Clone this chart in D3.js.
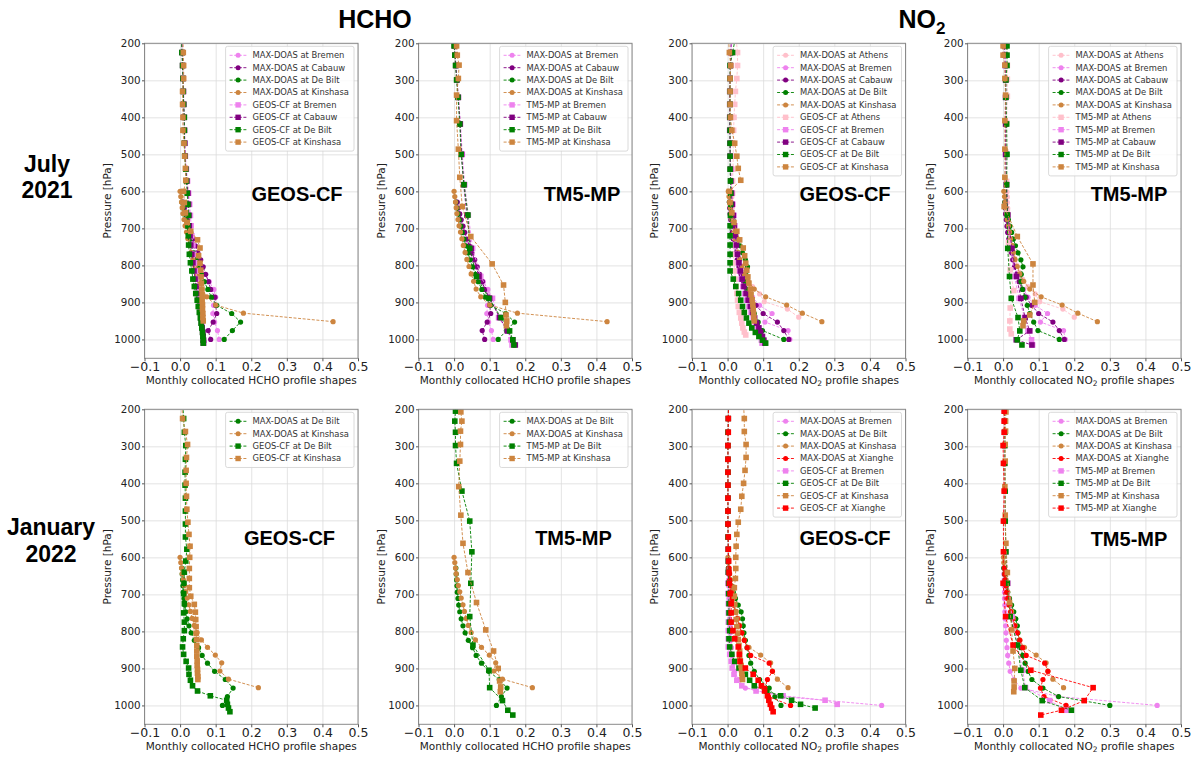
<!DOCTYPE html>
<html>
<head>
<meta charset="utf-8">
<script src="https://cdn.jsdelivr.net/npm/d3@7"></script>
<style>
  body { margin: 0; background: #fff; }
</style>
</head>
<body>
<div id="vis"></div>
<script>
// ----- PRESSURE LEVELS [hPa] ----- //
const lvMaxdoas    = [1000, 976, 953, 930, 908, 886, 865, 844, 824, 804, 785, 766, 747, 729, 711, 694, 677, 661, 645, 629];
const lvMaxdoasKin = [952, 929, 907, 885, 864, 843, 823, 803, 784, 765, 746, 728, 710, 693, 676, 660, 644, 629, 614, 600];
const lvMaxdoasAth = [940, 918, 898, 877, 857, 837, 818, 799, 780, 762, 744, 727, 710, 693, 677, 661, 645, 630, 615, 601];
const lvGeos    = [190, 225, 260, 295, 330, 365, 400, 435, 470, 505, 540, 572, 605, 635, 665, 693, 720, 745, 770, 793, 815, 837, 857, 876, 894, 911, 927, 942, 956, 969, 981, 992, 1002, 1010];
const lvGeosJan = [190, 225, 262, 298, 335, 370, 405, 440, 475, 510, 545, 578, 610, 640, 670, 698, 725, 750, 775, 798, 820, 842, 862, 881, 899, 916, 932, 947, 961, 974, 986, 997, 1007, 1017];
const lvGeosKin = [190, 225, 260, 295, 330, 365, 400, 435, 470, 505, 538, 570, 600, 630, 658, 684, 708, 731, 753, 774, 794, 813, 831, 848, 864, 879, 893, 906, 918, 930, 941, 950];
const lvGeosKinJan = [190, 225, 260, 295, 330, 365, 400, 435, 470, 505, 538, 570, 600, 630, 657, 682, 705, 727, 748, 768, 787, 805, 822, 838, 853, 867, 880, 892, 903, 913, 922, 930];
const lvGeosAth = [190, 225, 260, 295, 330, 365, 400, 435, 470, 505, 540, 572, 605, 635, 665, 693, 720, 745, 770, 793, 815, 837, 857, 876, 894, 911, 927, 942, 956, 969, 980, 988];
const lvTm5    = [185, 207, 232, 260, 299, 346, 418, 500, 582, 664, 754, 830, 889, 941, 977, 1001, 1015];
const lvTm5Jan = [185, 205, 232, 262, 298, 346, 421, 502, 585, 670, 760, 837, 905, 952, 987, 1013, 1026];
const lvTm5Kin = [185, 207, 232, 259, 295, 340, 409, 486, 562, 641, 722, 796, 853, 900, 934, 950, 963];
const lvTm5Ath = [185, 207, 232, 259, 297, 343, 414, 494, 573, 654, 738, 812, 868, 915, 950, 972, 985];

// ----- HCHO, JULY 2021 ----- //
const mdHchoJulBremen   = [0.110, 0.105, 0.097, 0.092, 0.094, 0.100, 0.095, 0.082, 0.070, 0.060, 0.052, 0.045, 0.038, 0.032, 0.027, 0.022, 0.018, 0.014, 0.010, 0.007];
const mdHchoJulCabauw   = [0.086, 0.079, 0.093, 0.103, 0.100, 0.098, 0.086, 0.080, 0.072, 0.065, 0.058, 0.050, 0.043, 0.036, 0.030, 0.025, 0.020, 0.016, 0.012, 0.009];
const mdHchoJulDeBilt   = [0.124, 0.147, 0.170, 0.145, 0.103, 0.088, 0.078, 0.068, 0.060, 0.052, 0.045, 0.039, 0.033, 0.028, 0.023, 0.019, 0.015, 0.011, 0.008, 0.005];
const mdHchoJulKinshasa = [0.430, 0.178, 0.100, 0.075, 0.062, 0.055, 0.048, 0.042, 0.036, 0.031, 0.026, 0.022, 0.018, 0.014, 0.011, 0.008, 0.006, 0.004, 0.002, 0.000];

const geosHchoJulBremen   = [0.005, 0.006, 0.008, 0.009, 0.010, 0.011, 0.012, 0.013, 0.014, 0.015, 0.018, 0.021, 0.024, 0.027, 0.029, 0.031, 0.033, 0.036, 0.039, 0.042, 0.045, 0.048, 0.050, 0.052, 0.054, 0.056, 0.058, 0.060, 0.061, 0.062, 0.063, 0.064, 0.064, 0.065];
const geosHchoJulCabauw   = [0.005, 0.006, 0.007, 0.008, 0.009, 0.010, 0.011, 0.012, 0.013, 0.014, 0.016, 0.019, 0.022, 0.024, 0.025, 0.026, 0.028, 0.030, 0.033, 0.036, 0.039, 0.042, 0.045, 0.048, 0.051, 0.054, 0.056, 0.058, 0.060, 0.062, 0.064, 0.065, 0.066, 0.066];
const geosHchoJulDeBilt   = [0.004, 0.005, 0.007, 0.008, 0.009, 0.010, 0.012, 0.012, 0.012, 0.013, 0.016, 0.018, 0.020, 0.022, 0.024, 0.022, 0.023, 0.024, 0.026, 0.029, 0.033, 0.036, 0.040, 0.044, 0.048, 0.051, 0.054, 0.057, 0.059, 0.061, 0.063, 0.064, 0.065, 0.065];
const geosHchoJulKinshasa = [0.008, 0.009, 0.010, 0.010, 0.007, 0.007, 0.008, 0.008, 0.011, 0.013, 0.015, 0.016, 0.010, 0.012, 0.015, 0.020, 0.030, 0.049, 0.056, 0.052, 0.056, 0.058, 0.059, 0.060, 0.061, 0.062, 0.062, 0.063, 0.063, 0.064, 0.064, 0.065];

const tm5HchoJulBremen   = [0.001, 0.002, 0.003, 0.005, 0.008, 0.012, 0.018, 0.023, 0.030, 0.040, 0.052, 0.075, 0.108, 0.125, 0.150, 0.160, 0.163];
const tm5HchoJulCabauw   = [0.001, 0.001, 0.003, 0.005, 0.008, 0.012, 0.017, 0.021, 0.027, 0.036, 0.048, 0.070, 0.100, 0.128, 0.150, 0.165, 0.172];
const tm5HchoJulDeBilt   = [0.000, 0.000, 0.002, 0.004, 0.007, 0.011, 0.016, 0.020, 0.028, 0.039, 0.044, 0.063, 0.098, 0.132, 0.156, 0.165, 0.168];
const tm5HchoJulKinshasa = [0.006, 0.007, 0.009, 0.014, 0.012, 0.007, 0.007, 0.012, 0.016, 0.023, 0.047, 0.107, 0.139, 0.144, 0.146, 0.148, 0.147];

// ----- NO2, JULY 2021 ----- //
const mdNo2JulAthens   = [0.200, 0.168, 0.103, 0.090, 0.070, 0.055, 0.045, 0.038, 0.032, 0.027, 0.023, 0.020, 0.018, 0.016, 0.015, 0.014, 0.013, 0.012, 0.012, 0.011];
const mdNo2JulBremen   = [0.175, 0.170, 0.105, 0.125, 0.090, 0.070, 0.058, 0.048, 0.040, 0.034, 0.029, 0.025, 0.021, 0.018, 0.015, 0.013, 0.011, 0.009, 0.008, 0.007];
const mdNo2JulCabauw   = [0.172, 0.158, 0.140, 0.100, 0.080, 0.065, 0.054, 0.045, 0.038, 0.032, 0.027, 0.023, 0.019, 0.016, 0.013, 0.011, 0.009, 0.007, 0.006, 0.005];
const mdNo2JulDeBilt   = [0.158, 0.098, 0.086, 0.075, 0.068, 0.061, 0.055, 0.050, 0.051, 0.056, 0.050, 0.042, 0.035, 0.029, 0.024, 0.019, 0.015, 0.011, 0.008, 0.005];
const mdNo2JulKinshasa = [0.265, 0.210, 0.166, 0.107, 0.075, 0.058, 0.047, 0.040, 0.034, 0.029, 0.025, 0.021, 0.018, 0.015, 0.012, 0.010, 0.008, 0.006, 0.004, 0.002];

const geosNo2JulAthens   = [0.024, 0.028, 0.028, 0.026, 0.022, 0.020, 0.018, 0.017, 0.016, 0.016, 0.015, 0.014, 0.014, 0.013, 0.013, 0.013, 0.014, 0.015, 0.016, 0.018, 0.020, 0.022, 0.024, 0.026, 0.028, 0.030, 0.033, 0.037, 0.040, 0.043, 0.047, 0.051];
const geosNo2JulBremen   = [0.012, 0.010, 0.008, 0.007, 0.007, 0.007, 0.007, 0.007, 0.008, 0.008, 0.009, 0.010, 0.012, 0.015, 0.018, 0.020, 0.022, 0.024, 0.027, 0.030, 0.034, 0.038, 0.043, 0.048, 0.054, 0.060, 0.066, 0.072, 0.078, 0.083, 0.088, 0.092, 0.095, 0.097];
const geosNo2JulCabauw   = [0.010, 0.009, 0.008, 0.007, 0.006, 0.006, 0.006, 0.006, 0.007, 0.007, 0.008, 0.009, 0.011, 0.013, 0.016, 0.019, 0.022, 0.025, 0.028, 0.032, 0.036, 0.041, 0.046, 0.052, 0.058, 0.064, 0.070, 0.076, 0.082, 0.088, 0.093, 0.098, 0.102, 0.105];
const geosNo2JulDeBilt   = [0.021, 0.014, 0.007, 0.007, 0.007, 0.007, 0.007, 0.007, 0.007, 0.007, 0.007, 0.008, 0.009, 0.009, 0.008, 0.007, 0.007, 0.007, 0.007, 0.007, 0.007, 0.016, 0.023, 0.031, 0.037, 0.042, 0.047, 0.053, 0.060, 0.068, 0.078, 0.088, 0.098, 0.107];
const geosNo2JulKinshasa = [0.003, 0.005, 0.009, 0.007, 0.007, 0.007, 0.008, 0.012, 0.020, 0.026, 0.030, 0.037, 0.005, 0.007, 0.012, 0.018, 0.026, 0.034, 0.044, 0.048, 0.051, 0.054, 0.057, 0.060, 0.064, 0.066, 0.069, 0.071, 0.072, 0.073, 0.074, 0.075];

const tm5No2JulAthens   = [0.008, 0.008, 0.010, 0.012, 0.012, 0.012, 0.010, 0.008, 0.010, 0.012, 0.015, 0.020, 0.030, 0.020, 0.019, 0.019, 0.023];
const tm5No2JulBremen   = [0.005, 0.005, 0.006, 0.007, 0.008, 0.008, 0.008, 0.008, 0.010, 0.014, 0.022, 0.032, 0.045, 0.060, 0.070, 0.080, 0.083];
const tm5No2JulCabauw   = [0.004, 0.004, 0.005, 0.006, 0.007, 0.007, 0.007, 0.007, 0.009, 0.013, 0.025, 0.038, 0.050, 0.062, 0.075, 0.037, 0.081];
const tm5No2JulDeBilt   = [0.011, 0.011, 0.011, 0.011, 0.008, 0.008, 0.010, 0.011, 0.010, 0.012, 0.013, 0.018, 0.023, 0.042, 0.047, 0.040, 0.053];
const tm5No2JulKinshasa = [0.000, 0.000, 0.000, 0.005, 0.005, 0.007, 0.005, 0.005, 0.005, 0.003, 0.040, 0.084, 0.084, 0.089, 0.075, 0.058, 0.056];

// ----- HCHO, JANUARY 2022 ----- //
const mdHchoJanDeBilt   = [0.119, 0.133, 0.149, 0.127, 0.097, 0.077, 0.062, 0.052, 0.040, 0.031, 0.025, 0.020, 0.016, 0.013, 0.011, 0.009, 0.008, 0.007, 0.006, 0.005];
const mdHchoJanKinshasa = [0.220, 0.136, 0.112, 0.117, 0.099, 0.077, 0.060, 0.048, 0.040, 0.034, 0.029, 0.025, 0.020, 0.016, 0.012, 0.009, 0.006, 0.004, 0.002, 0.000];

const geosHchoJanDeBilt   = [0.008, 0.010, 0.012, 0.016, 0.015, 0.014, 0.014, 0.015, 0.015, 0.015, 0.015, 0.019, 0.016, 0.012, 0.011, 0.010, 0.012, 0.010, 0.012, 0.012, 0.009, 0.007, 0.010, 0.017, 0.024, 0.025, 0.029, 0.035, 0.049, 0.085, 0.131, 0.133, 0.136, 0.140];
const geosHchoJanKinshasa = [0.005, 0.007, 0.015, 0.021, 0.018, 0.017, 0.017, 0.018, 0.019, 0.022, 0.025, 0.028, 0.027, 0.026, 0.026, 0.026, 0.030, 0.040, 0.043, 0.044, 0.045, 0.045, 0.046, 0.047, 0.047, 0.047, 0.048, 0.048, 0.049, 0.049, 0.050, 0.050];

const tm5HchoJanDeBilt   = [0.003, 0.004, 0.002, 0.004, 0.004, 0.007, 0.022, 0.044, 0.050, 0.047, 0.044, 0.053, 0.098, 0.100, 0.136, 0.151, 0.165];
const tm5HchoJanKinshasa = [0.018, 0.019, 0.022, 0.018, 0.018, 0.016, 0.013, 0.019, 0.025, 0.039, 0.063, 0.089, 0.111, 0.124, 0.128, 0.131, 0.130];

// ----- NO2, JANUARY 2022 ----- //
const mdNo2JanBremen     = [0.433, 0.155, 0.050, 0.030, 0.020, 0.016, 0.013, 0.011, 0.009, 0.008, 0.007, 0.006, 0.005, 0.005, 0.004, 0.004, 0.003, 0.003, 0.002, 0.002];
const mdNo2JanDeBiltGeos = [0.150, 0.133, 0.117, 0.090, 0.075, 0.065, 0.060, 0.055, 0.050, 0.046, 0.044, 0.042, 0.038, 0.030, 0.022, 0.016, 0.011, 0.007, 0.004, 0.002];
const mdNo2JanDeBiltTm5  = [0.300, 0.156, 0.112, 0.081, 0.070, 0.062, 0.055, 0.050, 0.045, 0.042, 0.040, 0.036, 0.030, 0.024, 0.018, 0.013, 0.009, 0.006, 0.004, 0.002];
const mdNo2JanKinshasa   = [0.170, 0.140, 0.126, 0.121, 0.093, 0.060, 0.047, 0.040, 0.034, 0.029, 0.024, 0.020, 0.016, 0.013, 0.010, 0.008, 0.006, 0.004, 0.002, 0.001];
const mdNo2JanXianghe    = [0.177, 0.115, 0.105, 0.112, 0.126, 0.117, 0.065, 0.055, 0.047, 0.040, 0.033, 0.027, 0.021, 0.017, 0.013, 0.010, 0.008, 0.006, 0.005, 0.004];

const geosNo2JanBremen   = [0.002, 0.002, 0.001, 0.001, 0.001, 0.001, 0.001, 0.001, 0.001, 0.001, 0.001, 0.001, 0.001, 0.001, 0.001, 0.001, 0.002, 0.002, 0.002, 0.002, 0.002, 0.002, 0.006, 0.010, 0.013, 0.018, 0.026, 0.040, 0.080, 0.156, 0.274, 0.308];
const geosNo2JanDeBilt   = [0.002, 0.002, 0.001, 0.001, 0.001, 0.001, 0.001, 0.001, 0.001, 0.001, 0.001, 0.002, 0.002, 0.002, 0.003, 0.003, 0.004, 0.004, 0.005, 0.006, 0.004, 0.006, 0.012, 0.020, 0.032, 0.050, 0.062, 0.075, 0.110, 0.149, 0.180, 0.205, 0.246];
const geosNo2JanKinshasa = [0.045, 0.047, 0.047, 0.052, 0.052, 0.049, 0.045, 0.040, 0.037, 0.030, 0.026, 0.024, 0.023, 0.023, 0.022, 0.019, 0.019, 0.020, 0.022, 0.024, 0.026, 0.028, 0.030, 0.032, 0.034, 0.034, 0.036, 0.038, 0.039, 0.040, 0.041, 0.042];
const geosNo2JanXianghe  = [0.003, 0.002, 0.002, 0.001, 0.001, 0.001, 0.001, 0.001, 0.001, 0.001, 0.002, 0.002, 0.003, 0.004, 0.005, 0.007, 0.010, 0.010, 0.010, 0.015, 0.020, 0.030, 0.033, 0.035, 0.050, 0.072, 0.086, 0.095, 0.104, 0.112, 0.116, 0.120, 0.124, 0.128];

const tm5No2JanBremen   = [0.004, 0.004, 0.004, 0.004, 0.004, 0.004, 0.005, 0.006, 0.008, 0.014, 0.025, 0.040, 0.055, 0.063, 0.131, 0.178];
const tm5No2JanDeBilt   = [0.005, 0.005, 0.005, 0.005, 0.005, 0.005, 0.006, 0.006, 0.008, 0.012, 0.020, 0.040, 0.050, 0.061, 0.110, 0.192];
const tm5No2JanKinshasa = [0.008, 0.008, 0.007, 0.007, 0.006, 0.006, 0.005, 0.006, 0.008, 0.012, 0.018, 0.024, 0.028, 0.033, 0.031, 0.031, 0.030];
const tm5No2JanXianghe  = [0.003, 0.003, 0.003, 0.003, 0.000, 0.001, 0.003, 0.001, 0.001, 0.000, 0.007, 0.028, 0.078, 0.253, 0.228, 0.164, 0.106];

// ----- TICKS ----- //
const xTicks = [-0.1, 0.0, 0.1, 0.2, 0.3, 0.4, 0.5];
const yTicks = [200, 300, 400, 500, 600, 700, 800, 900, 1000];

// site colours (matplotlib named colours)
const siteColor = {
  "Athens": "pink", "Bremen": "violet", "Cabauw": "purple",
  "De Bilt": "green", "Kinshasa": "peru", "Xianghe": "red"
};

// series: [source, site, levels, values]
const panels = [
  { row: 0, col: 0, species: "HCHO", model: "GEOS-CF", lab: [152.5, 158],
    series: [
      ["MAX-DOAS", "Bremen", lvMaxdoas, mdHchoJulBremen],
      ["MAX-DOAS", "Cabauw", lvMaxdoas, mdHchoJulCabauw],
      ["MAX-DOAS", "De Bilt", lvMaxdoas, mdHchoJulDeBilt],
      ["MAX-DOAS", "Kinshasa", lvMaxdoasKin, mdHchoJulKinshasa],
      ["GEOS-CF", "Bremen", lvGeos, geosHchoJulBremen],
      ["GEOS-CF", "Cabauw", lvGeos, geosHchoJulCabauw],
      ["GEOS-CF", "De Bilt", lvGeos, geosHchoJulDeBilt],
      ["GEOS-CF", "Kinshasa", lvGeosKin, geosHchoJulKinshasa]] },
  { row: 0, col: 1, species: "HCHO", model: "TM5-MP", lab: [163.5, 157.5],
    series: [
      ["MAX-DOAS", "Bremen", lvMaxdoas, mdHchoJulBremen],
      ["MAX-DOAS", "Cabauw", lvMaxdoas, mdHchoJulCabauw],
      ["MAX-DOAS", "De Bilt", lvMaxdoas, mdHchoJulDeBilt],
      ["MAX-DOAS", "Kinshasa", lvMaxdoasKin, mdHchoJulKinshasa],
      ["TM5-MP", "Bremen", lvTm5, tm5HchoJulBremen],
      ["TM5-MP", "Cabauw", lvTm5, tm5HchoJulCabauw],
      ["TM5-MP", "De Bilt", lvTm5, tm5HchoJulDeBilt],
      ["TM5-MP", "Kinshasa", lvTm5Kin, tm5HchoJulKinshasa]] },
  { row: 0, col: 2, species: "NO2", model: "GEOS-CF", lab: [153, 157.5],
    series: [
      ["MAX-DOAS", "Athens", lvMaxdoasAth, mdNo2JulAthens],
      ["MAX-DOAS", "Bremen", lvMaxdoas, mdNo2JulBremen],
      ["MAX-DOAS", "Cabauw", lvMaxdoas, mdNo2JulCabauw],
      ["MAX-DOAS", "De Bilt", lvMaxdoas, mdNo2JulDeBilt],
      ["MAX-DOAS", "Kinshasa", lvMaxdoasKin, mdNo2JulKinshasa],
      ["GEOS-CF", "Athens", lvGeosAth, geosNo2JulAthens],
      ["GEOS-CF", "Bremen", lvGeos, geosNo2JulBremen],
      ["GEOS-CF", "Cabauw", lvGeos, geosNo2JulCabauw],
      ["GEOS-CF", "De Bilt", lvGeos, geosNo2JulDeBilt],
      ["GEOS-CF", "Kinshasa", lvGeosKin, geosNo2JulKinshasa]] },
  { row: 0, col: 3, species: "NO2", model: "TM5-MP", lab: [161.5, 157.5],
    series: [
      ["MAX-DOAS", "Athens", lvMaxdoasAth, mdNo2JulAthens],
      ["MAX-DOAS", "Bremen", lvMaxdoas, mdNo2JulBremen],
      ["MAX-DOAS", "Cabauw", lvMaxdoas, mdNo2JulCabauw],
      ["MAX-DOAS", "De Bilt", lvMaxdoas, mdNo2JulDeBilt],
      ["MAX-DOAS", "Kinshasa", lvMaxdoasKin, mdNo2JulKinshasa],
      ["TM5-MP", "Athens", lvTm5Ath, tm5No2JulAthens],
      ["TM5-MP", "Bremen", lvTm5, tm5No2JulBremen],
      ["TM5-MP", "Cabauw", lvTm5, tm5No2JulCabauw],
      ["TM5-MP", "De Bilt", lvTm5, tm5No2JulDeBilt],
      ["TM5-MP", "Kinshasa", lvTm5Kin, tm5No2JulKinshasa]] },
  { row: 1, col: 0, species: "HCHO", model: "GEOS-CF", lab: [145, 135.5],
    series: [
      ["MAX-DOAS", "De Bilt", lvMaxdoas, mdHchoJanDeBilt],
      ["MAX-DOAS", "Kinshasa", lvMaxdoasKin, mdHchoJanKinshasa],
      ["GEOS-CF", "De Bilt", lvGeosJan, geosHchoJanDeBilt],
      ["GEOS-CF", "Kinshasa", lvGeosKinJan, geosHchoJanKinshasa]] },
  { row: 1, col: 1, species: "HCHO", model: "TM5-MP", lab: [155, 136],
    series: [
      ["MAX-DOAS", "De Bilt", lvMaxdoas, mdHchoJanDeBilt],
      ["MAX-DOAS", "Kinshasa", lvMaxdoasKin, mdHchoJanKinshasa],
      ["TM5-MP", "De Bilt", lvTm5Jan, tm5HchoJanDeBilt],
      ["TM5-MP", "Kinshasa", lvTm5Kin, tm5HchoJanKinshasa]] },
  { row: 1, col: 2, species: "NO2", model: "GEOS-CF", lab: [153, 136],
    series: [
      ["MAX-DOAS", "Bremen", lvMaxdoas, mdNo2JanBremen],
      ["MAX-DOAS", "De Bilt", lvMaxdoas, mdNo2JanDeBiltGeos],
      ["MAX-DOAS", "Kinshasa", lvMaxdoasKin, mdNo2JanKinshasa],
      ["MAX-DOAS", "Xianghe", lvMaxdoas, mdNo2JanXianghe],
      ["GEOS-CF", "Bremen", lvGeosJan, geosNo2JanBremen],
      ["GEOS-CF", "De Bilt", lvGeosJan, geosNo2JanDeBilt],
      ["GEOS-CF", "Kinshasa", lvGeosKinJan, geosNo2JanKinshasa],
      ["GEOS-CF", "Xianghe", lvGeosJan, geosNo2JanXianghe]] },
  { row: 1, col: 3, species: "NO2", model: "TM5-MP", lab: [161.5, 137],
    series: [
      ["MAX-DOAS", "Bremen", lvMaxdoas, mdNo2JanBremen],
      ["MAX-DOAS", "De Bilt", lvMaxdoas, mdNo2JanDeBiltTm5],
      ["MAX-DOAS", "Kinshasa", lvMaxdoasKin, mdNo2JanKinshasa],
      ["MAX-DOAS", "Xianghe", lvMaxdoas, mdNo2JanXianghe],
      ["TM5-MP", "Bremen", lvTm5Jan, tm5No2JanBremen],
      ["TM5-MP", "De Bilt", lvTm5Jan, tm5No2JanDeBilt],
      ["TM5-MP", "Kinshasa", lvTm5Kin, tm5No2JanKinshasa],
      ["TM5-MP", "Xianghe", lvTm5Jan, tm5No2JanXianghe]] }
];

// ----- LAYOUT ----- //
const W = 1199, H = 758;
const colLeft = [144.5, 418.5, 692, 967.5];
const rowTop = [43.3, 409.3];
const pw = 213.5, ph = 315;
const tickFont = "DejaVu Sans, sans-serif";
const boldFont = "Liberation Sans, Arial, sans-serif";

const svg = d3.select("#vis")
  .append("svg")
  .attr("width", W)
  .attr("height", H)
  .style("font-family", tickFont);

svg.append("rect").attr("width", W).attr("height", H).attr("fill", "#fff");

let x = d3.scaleLinear().domain([-0.1, 0.5]).range([0, pw]);
let y = d3.scaleLinear().domain([200, 1051]).range([0, ph]);

let line = d3.line()
  .x((d) => x(d[1]))
  .y((d) => y(d[0]));

panels.forEach(function (p, i) {
  const g = svg.append("g")
    .attr("transform", `translate(${colLeft[p.col]},${rowTop[p.row]})`);

  // ----- GRID ----- //
  g.append("g")
    .attr("transform", `translate(0,${ph})`)
    .call(d3.axisBottom(x).tickValues(xTicks).tickSize(-ph).tickFormat(""))
    .call((a) => a.select(".domain").remove())
    .selectAll("line").attr("stroke", "#dcdcdc").attr("stroke-width", 0.8);
  g.append("g")
    .call(d3.axisLeft(y).tickValues(yTicks).tickSize(-pw).tickFormat(""))
    .call((a) => a.select(".domain").remove())
    .selectAll("line").attr("stroke", "#dcdcdc").attr("stroke-width", 0.8);

  // clip so profiles above 200 hPa are cut at the frame
  g.append("clipPath").attr("id", "clip" + i)
    .append("rect").attr("width", pw).attr("height", ph);
  const plot = g.append("g").attr("clip-path", `url(#clip${i})`);

  // ----- PROFILES ----- //
  p.series.forEach(function (s) {
    const color = siteColor[s[1]];
    const pts = d3.zip(s[2], s[3]);
    plot.append("path")
      .datum(pts)
      .attr("d", line)
      .attr("fill", "none")
      .attr("stroke", color)
      .attr("stroke-width", 0.9)
      .attr("stroke-dasharray", "3,1.6");
    if (s[0] === "MAX-DOAS") {
      plot.selectAll(null)
        .data(pts)
        .join("circle")
        .attr("cx", (d) => x(d[1]))
        .attr("cy", (d) => y(d[0]))
        .attr("r", 2.6)
        .attr("fill", color);
    } else {
      plot.selectAll(null)
        .data(pts)
        .join("rect")
        .attr("x", (d) => x(d[1]) - 2.8)
        .attr("y", (d) => y(d[0]) - 2.8)
        .attr("width", 5.6)
        .attr("height", 5.6)
        .attr("fill", color);
    }
  });

  // frame
  g.append("rect")
    .attr("width", pw)
    .attr("height", ph)
    .attr("fill", "none")
    .attr("stroke", "#8a8a8a")
    .attr("stroke-width", 1);

  // ----- AXES ----- //
  const xAxis = g.append("g")
    .attr("transform", `translate(0,${ph})`)
    .call(d3.axisBottom(x).tickValues(xTicks).tickSize(3).tickPadding(0.5).tickFormat(d3.format(".1f")));
  xAxis.select(".domain").remove();
  xAxis.selectAll("line").attr("stroke", "#555");
  xAxis.selectAll("text").attr("font-size", 12.5).attr("fill", "#222").attr("font-family", tickFont);

  const yAxis = g.append("g")
    .call(d3.axisLeft(y).tickValues(yTicks).tickSize(2.5).tickPadding(1.5).tickFormat(d3.format("d")));
  yAxis.select(".domain").remove();
  yAxis.selectAll("line").attr("stroke", "#555");
  yAxis.selectAll("text").attr("font-size", 10.3).attr("fill", "#222").attr("font-family", tickFont);

  // axis labels
  const xl = g.append("text")
    .attr("x", pw / 2)
    .attr("y", ph + 25.5)
    .attr("text-anchor", "middle")
    .attr("font-size", 10.5)
    .attr("fill", "#222");
  if (p.species === "NO2") {
    xl.append("tspan").text("Monthly collocated NO");
    xl.append("tspan").attr("font-size", 7.5).attr("dy", 2.5).text("2");
    xl.append("tspan").attr("dy", -2.5).text(" profile shapes");
  } else {
    xl.text("Monthly collocated HCHO profile shapes");
  }

  g.append("text")
    .attr("transform", "rotate(-90)")
    .attr("x", -ph / 2)
    .attr("y", -34)
    .attr("text-anchor", "middle")
    .attr("font-size", 10.5)
    .attr("fill", "#222")
    .text("Pressure [hPa]");

  // ----- MODEL LABEL ----- //
  g.append("text")
    .attr("x", p.lab[0])
    .attr("y", p.lab[1])
    .attr("text-anchor", "middle")
    .attr("font-family", boldFont)
    .attr("font-weight", "bold")
    .attr("font-size", 20)
    .attr("fill", "#000")
    .text(p.model);

  // ----- LEGEND ----- //
  const rowH = 12.4;
  const legend = g.append("g");
  const rows = legend.selectAll("g.row")
    .data(p.series)
    .join("g")
    .attr("class", "row")
    .attr("transform", (d, j) => `translate(0,${9 + j * rowH})`);
  rows.append("line")
    .attr("x1", 4).attr("x2", 21)
    .attr("stroke", (d) => siteColor[d[1]])
    .attr("stroke-width", 0.9)
    .attr("stroke-dasharray", "3,1.6");
  rows.each(function (d) {
    const r = d3.select(this);
    if (d[0] === "MAX-DOAS") {
      r.append("circle").attr("cx", 12.5).attr("r", 2.5).attr("fill", siteColor[d[1]]);
    } else {
      r.append("rect").attr("x", 9.8).attr("y", -2.7).attr("width", 5.4).attr("height", 5.4).attr("fill", siteColor[d[1]]);
    }
  });
  rows.append("text")
    .attr("x", 27)
    .attr("dy", "0.35em")
    .attr("font-size", 8.4)
    .attr("fill", "#333")
    .text((d) => d[0] + " at " + d[1]);

  let maxW = d3.max(rows.selectAll("text").nodes(), (n) => n.getComputedTextLength());
  let bw = 27 + maxW + 5;
  let bh = (p.series.length - 1) * rowH + 18;
  legend.insert("rect", ":first-child")
    .attr("width", bw)
    .attr("height", bh)
    .attr("rx", 2)
    .attr("fill", "#fff")
    .attr("fill-opacity", 0.85)
    .attr("stroke", "#d0d0d0")
    .attr("stroke-width", 0.8);
  legend.attr("transform", `translate(${pw - 4 - bw},3)`);
});

// ----- TITLES ----- //
svg.append("text")
  .attr("x", 375).attr("y", 28.3)
  .attr("text-anchor", "middle")
  .attr("font-family", boldFont)
  .attr("font-weight", "bold")
  .attr("font-size", 25)
  .text("HCHO");

const no2 = svg.append("text")
  .attr("x", 922).attr("y", 28.3)
  .attr("text-anchor", "middle")
  .attr("font-family", boldFont)
  .attr("font-weight", "bold")
  .attr("font-size", 25);
no2.append("tspan").text("NO");
no2.append("tspan").attr("font-size", 17).attr("dy", 6).text("2");

const rowLabels = [["July", "2021", 47, 171.5, 197.5], ["January", "2022", 51, 535, 561.5]];
rowLabels.forEach(function (r) {
  [r[0], r[1]].forEach(function (t, k) {
    svg.append("text")
      .attr("x", r[2])
      .attr("y", k === 0 ? r[3] : r[4])
      .attr("text-anchor", "middle")
      .attr("font-family", boldFont)
      .attr("font-weight", "bold")
      .attr("font-size", 23)
      .text(t);
  });
});
</script>
</body>
</html>
